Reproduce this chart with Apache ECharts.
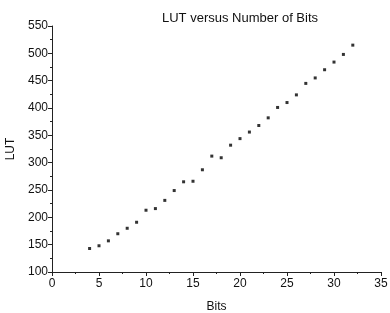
<!DOCTYPE html>
<html>
<head>
<meta charset="utf-8">
<script src="https://cdn.jsdelivr.net/npm/echarts@6/dist/echarts.min.js"></script>
<style>html,body{margin:0;padding:0;background:#fff}</style>
</head>
<body>
<div id="main" style="width:390px;height:313px"></div>
<script>
// bits vs LUT count
var bits = [4,5,6,7,8,9,10,11,12,13,14,15,16,17,18,19,20,21,22,23,24,25,26,27,28,29,30,31,32];
var luts = [143,148,157,170,180,191,213,216,231,249,265,266,287,312,309,332,344,356,368,382,401,410,424,445,455,470,484,498,515];

var pts = bits.map(function (b, i) { return [b, luts[i]]; });

var chart = echarts.init(document.getElementById('main'));
chart.setOption({
  animation: false,
  textStyle: { fontFamily: 'Liberation Sans' },
  title: {
    text: 'LUT versus Number of Bits',
    left: 157, top: 7,
    textStyle: { fontSize: 13, fontWeight: 'normal', color: '#111', fontFamily: 'Liberation Sans' }
  },
  grid: { left: 52, right: 9, top: 26, bottom: 41, containLabel: false, outerBoundsMode: 'none' },
  xAxis: {
    type: 'value', min: 0, max: 35, interval: 5,
    name: 'Bits', nameLocation: 'middle', nameGap: 29,
    nameTextStyle: { fontSize: 12, color: '#111' },
    axisLine: { lineStyle: { color: '#222', width: 1 } },
    axisTick: { length: 4, lineStyle: { color: '#222' } },
    minorTick: { show: true, splitNumber: 2, length: 2, lineStyle: { color: '#222' } },
    axisLabel: { fontSize: 12, color: '#111', margin: 6 },
    splitLine: { show: false }
  },
  yAxis: {
    type: 'value', min: 100, max: 550, interval: 50,
    name: 'LUT', nameLocation: 'middle', nameGap: 31,
    nameTextStyle: { fontSize: 12, color: '#111' },
    axisLine: { show: true, lineStyle: { color: '#222', width: 1 } },
    axisTick: { show: true, length: 4, lineStyle: { color: '#222' } },
    minorTick: { show: true, splitNumber: 2, length: 2, lineStyle: { color: '#222' } },
    axisLabel: { fontSize: 12, color: '#111', margin: 4 },
    splitLine: { show: false }
  },
  series: [{
    type: 'scatter',
    data: pts,
    symbol: 'rect',
    symbolSize: 3,
    itemStyle: { color: '#000' }
  }]
});
</script>
</body>
</html>
